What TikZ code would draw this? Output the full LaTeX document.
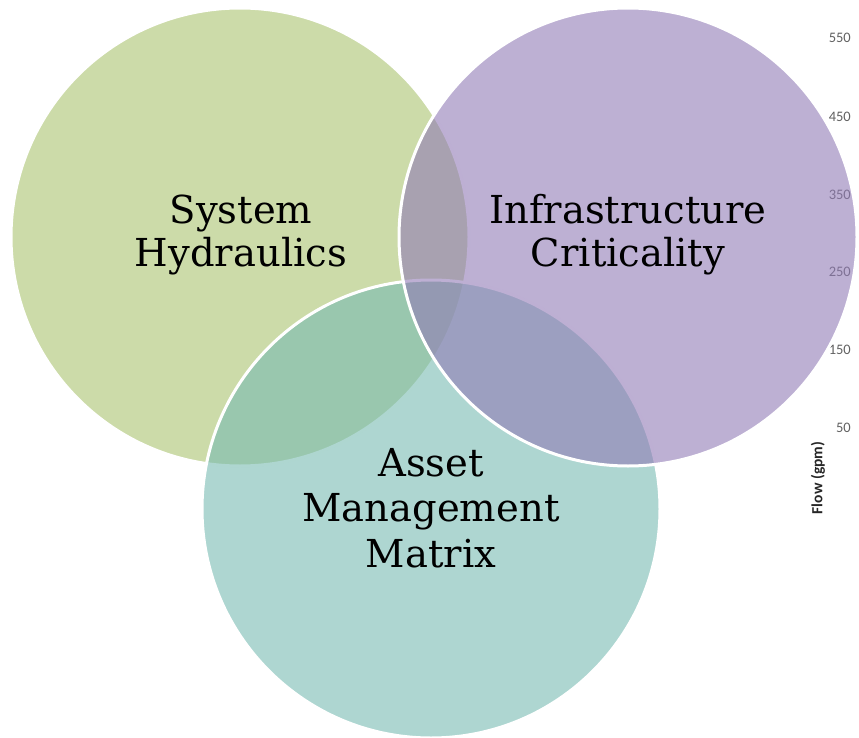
\documentclass[tikz,border=0pt]{standalone}
\usepackage{fontspec}
\setmainfont{DejaVu Serif}
\newfontfamily\axisfont{Carlito}
\begin{document}
\begin{tikzpicture}[x=1pt,y=-1pt,
  setcircle/.style={draw=white,line width=3pt,fill opacity=0.6},
  setlabel/.style={align=center,font=\fontsize{38.5}{43}\selectfont,text=black,inner sep=0pt},
  ticklabel/.style={font=\axisfont\fontsize{14.5}{15}\selectfont,text=black!62,anchor=east,inner sep=0pt},
  axistitle/.style={font=\axisfont\bfseries\fontsize{15.5}{18}\selectfont,text=black!85,rotate=90,inner sep=0pt}]
\useasboundingbox (0,0) rectangle (859,738);
\definecolor{hydgreen}{RGB}{170,195,112}
\definecolor{critpurple}{RGB}{145,123,182}
\definecolor{assetteal}{RGB}{120,187,178}

% flow axis of a chart lying behind the sets
\node[ticklabel] (t550) at (851,38) {550};
\node[ticklabel] (t450) at (851,117) {450};
\node[ticklabel] (t350) at (851,195) {350};
\node[ticklabel] (t250) at (851,272) {250};
\node[ticklabel] (t150) at (851,350) {150};
\node[ticklabel] (t50) at (851,428) {50};
\node[axistitle] (flow) at (818,478) {Flow (gpm)};

% the three sets
\fill[white] (240,237) circle (229);
\draw[setcircle,fill=hydgreen] (240,237) circle (229);
\draw[setcircle,fill=assetteal] (431,509) circle (229);
\draw[setcircle,fill=critpurple] (628,237) circle (229);

\node[setlabel] (hyd) at (241,235) {System\\Hydraulics};
\node[setlabel] (crit) at (628,235) {Infrastructure\\Criticality};
\node[setlabel,font=\fontsize{38.5}{45.5}\selectfont] (asset) at (431,508) {Asset\\Management\\Matrix};
\end{tikzpicture}
\end{document}
